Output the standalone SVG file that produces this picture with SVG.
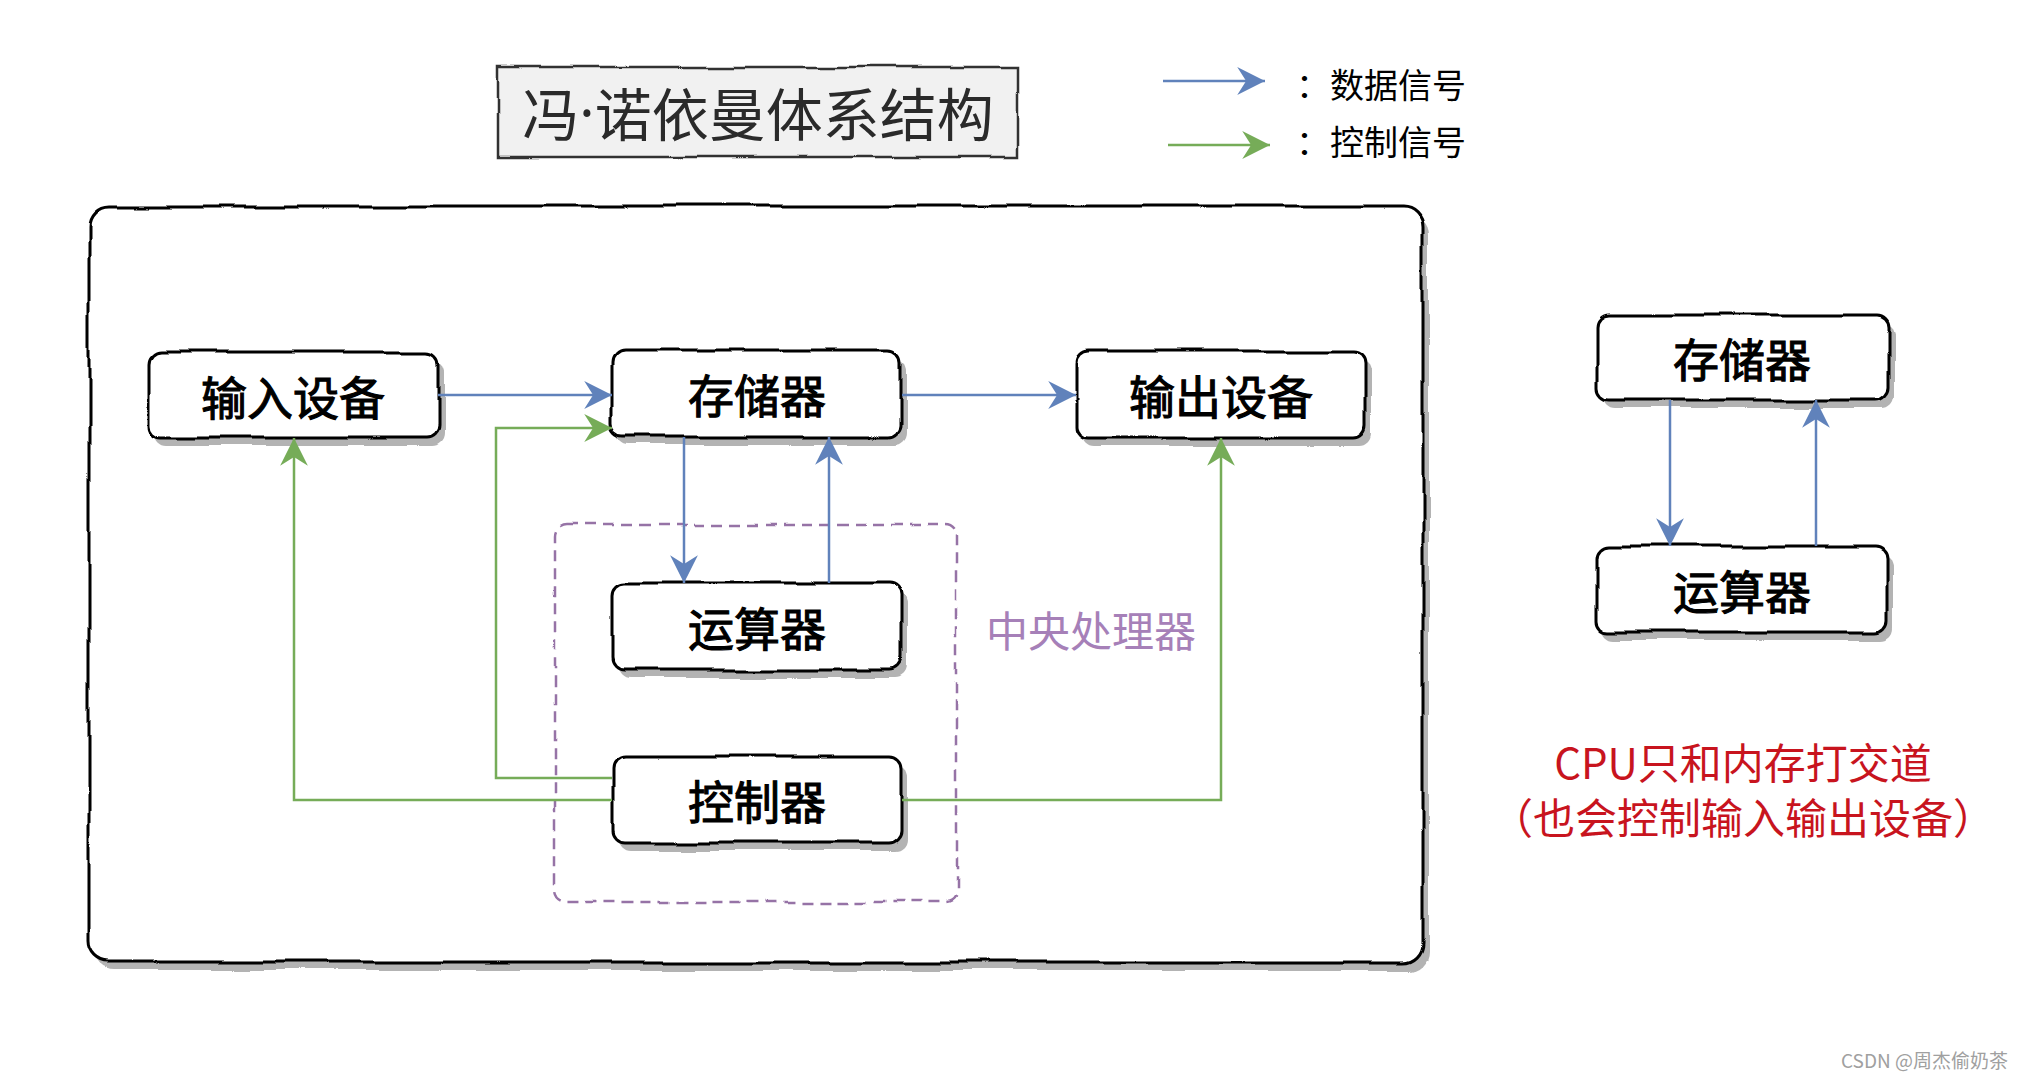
<svg xmlns="http://www.w3.org/2000/svg" width="2024" height="1078" viewBox="0 0 2024 1078">
<style>
.t{font-family:"Noto Sans CJK SC","Noto Sans",sans-serif;text-anchor:middle;dominant-baseline:central}
.nt{font-size:46px;font-weight:400;fill:#000;stroke:#000;stroke-width:1.1}
.box{fill:#fff;stroke:#000;stroke-width:3}
.sh{fill:#b3b3b3}
.blue{fill:none;stroke:#6082bb;stroke-width:2.5}
.green{fill:none;stroke:#76ac58;stroke-width:2.5}
</style>
<defs>
<filter id="rough" filterUnits="userSpaceOnUse" x="0" y="0" width="2024" height="1078">
<feTurbulence type="fractalNoise" baseFrequency="0.011" numOctaves="2" seed="4" result="n"/>
<feDisplacementMap in="SourceGraphic" in2="n" scale="9" xChannelSelector="R" yChannelSelector="G"/>
</filter>
<filter id="rough2" filterUnits="userSpaceOnUse" x="0" y="0" width="2024" height="1078">
<feTurbulence type="fractalNoise" baseFrequency="0.013" numOctaves="2" seed="11" result="n"/>
<feDisplacementMap in="SourceGraphic" in2="n" scale="9" xChannelSelector="R" yChannelSelector="G"/>
</filter>
<marker id="ab" markerUnits="userSpaceOnUse" markerWidth="30" markerHeight="30" viewBox="-26 -13 27 26" refX="0" refY="0" orient="auto">
<path d="M0,0 L-25,-12.5 L-17,0 L-25,12.5 Z" fill="#6082bb"/>
</marker>
<marker id="ag" markerUnits="userSpaceOnUse" markerWidth="30" markerHeight="30" viewBox="-26 -13 27 26" refX="0" refY="0" orient="auto">
<path d="M0,0 L-25,-12.5 L-17,0 L-25,12.5 Z" fill="#76ac58"/>
</marker>
</defs>
<rect width="2024" height="1078" fill="#fff"/>

<g id="outer" filter="url(#rough)">
<rect class="sh" x="95" y="214" width="1334" height="756" rx="20"/>
<rect class="box" x="89" y="206" width="1334" height="756" rx="20"/>
</g>

<g id="title">
<g filter="url(#rough2)">
<rect x="496" y="67" width="522" height="90" fill="#f1f1f1" stroke="#333" stroke-width="2.5"/>
</g>
<text class="t" x="758" y="111" font-size="57" fill="#2a2a2a">冯<tspan font-family="Noto Sans, sans-serif">·</tspan>诺依曼体系结构</text>
</g>

<g id="legend">
<path class="blue" d="M1163,81 L1265,81" marker-end="url(#ab)"/>
<path class="green" d="M1168,145 L1270,145" marker-end="url(#ag)"/>
<text x="1296" y="83" font-family="Noto Sans CJK SC, sans-serif" font-size="34" dominant-baseline="central" fill="#000">：<tspan x="1330">数据信号</tspan></text>
<text x="1296" y="140" font-family="Noto Sans CJK SC, sans-serif" font-size="34" dominant-baseline="central" fill="#000">：<tspan x="1330">控制信号</tspan></text>
</g>

<g id="cpu">
<g filter="url(#rough2)">
<rect x="555" y="525" width="402" height="377" rx="12" fill="none" stroke="#9673a6" stroke-width="2.5" stroke-dasharray="11 7"/>
</g>
<text class="t" x="1091" y="628" font-size="42" fill="#a680b8">中央处理器</text>
</g>

<g id="node-input">
<g filter="url(#rough)"><rect class="sh" x="154" y="360" width="290" height="86" rx="12"/><rect class="box" x="148" y="352" width="290" height="86" rx="12"/></g>
<text class="t nt" x="293" y="395">输入设备</text>
</g>
<g id="node-storage">
<g filter="url(#rough2)"><rect class="sh" x="618" y="358" width="290" height="87" rx="12"/><rect class="box" x="612" y="350" width="290" height="87" rx="12"/></g>
<text class="t nt" x="757" y="393">存储器</text>
</g>
<g id="node-output">
<g filter="url(#rough)"><rect class="sh" x="1082" y="359" width="290" height="87" rx="12"/><rect class="box" x="1076" y="351" width="290" height="87" rx="12"/></g>
<text class="t nt" x="1221" y="394">输出设备</text>
</g>
<g id="node-alu">
<g filter="url(#rough2)"><rect class="sh" x="618" y="591" width="290" height="87" rx="12"/><rect class="box" x="612" y="583" width="290" height="87" rx="12"/></g>
<text class="t nt" x="757" y="626">运算器</text>
</g>
<g id="node-ctrl">
<g filter="url(#rough)"><rect class="sh" x="618" y="765" width="290" height="86" rx="12"/><rect class="box" x="612" y="757" width="290" height="86" rx="12"/></g>
<text class="t nt" x="757" y="799">控制器</text>
</g>
<g id="node-storage2">
<g filter="url(#rough2)"><rect class="sh" x="1603" y="323" width="290" height="85" rx="12"/><rect class="box" x="1597" y="315" width="290" height="85" rx="12"/></g>
<text class="t nt" x="1742" y="357">存储器</text>
</g>
<g id="node-alu2">
<g filter="url(#rough)"><rect class="sh" x="1603" y="554" width="290" height="86" rx="12"/><rect class="box" x="1597" y="546" width="290" height="86" rx="12"/></g>
<text class="t nt" x="1742" y="589">运算器</text>
</g>

<g id="connectors">
<path class="blue" d="M438,395 L612,395" marker-end="url(#ab)"/>
<path class="blue" d="M902,395 L1076,395" marker-end="url(#ab)"/>
<path class="blue" d="M684,437 L684,583" marker-end="url(#ab)"/>
<path class="blue" d="M829,583 L829,437" marker-end="url(#ab)"/>
<path class="green" d="M612,800 L294,800 L294,438" marker-end="url(#ag)"/>
<path class="green" d="M612,778 L496,778 L496,428 L612,428" marker-end="url(#ag)"/>
<path class="green" d="M902,800 L1221,800 L1221,438" marker-end="url(#ag)"/>
<path class="blue" d="M1670,400 L1670,546" marker-end="url(#ab)"/>
<path class="blue" d="M1816,546 L1816,400" marker-end="url(#ab)"/>
</g>

<g id="note">
<text class="t" x="1743" y="760" font-size="42" fill="#c8141e">CPU只和内存打交道</text>
<text class="t" x="1743" y="815" font-size="42" fill="#c8141e">（也会控制输入输出设备）</text>
</g>
<text x="2008" y="1059" font-family="Noto Sans CJK SC, sans-serif" font-size="19" text-anchor="end" dominant-baseline="central" fill="#a0a0a0">CSDN @周杰偷奶茶</text>
</svg>
